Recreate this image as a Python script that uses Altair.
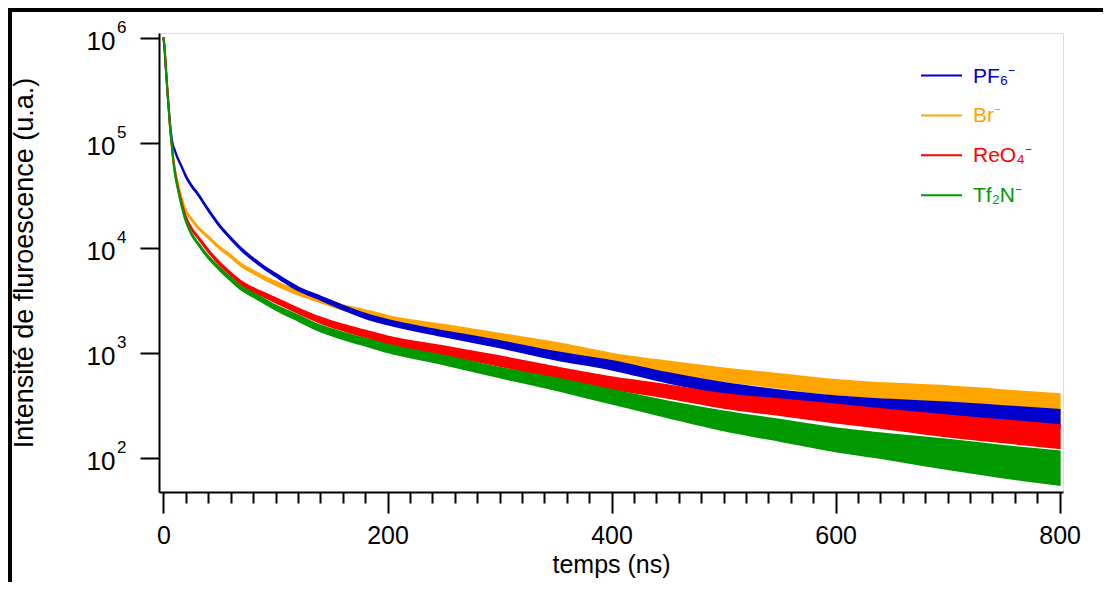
import altair as alt
import pandas as pd

FONT = "Liberation Sans, Arial, sans-serif"

# time axis (ns)
T_NS = [0, 1, 2, 3, 4, 5, 6, 7, 8, 10, 12, 15, 20, 25, 30, 40, 50, 60, 70, 80, 90,
        100, 120, 140, 160, 180, 200, 250, 300, 350, 400, 450, 500, 550, 600, 650,
        700, 750, 800]

# log10 of fluorescence intensity (centre of the noisy trace)
LOG_PF6 = [6.00, 5.88, 5.72, 5.56, 5.42, 5.30, 5.17, 5.07, 5.00, 4.93, 4.87, 4.80, 4.68,
           4.59, 4.52, 4.36, 4.21, 4.09, 3.98, 3.89, 3.81, 3.74, 3.61, 3.52, 3.43, 3.35,
           3.29, 3.18, 3.08, 2.97, 2.88, 2.76, 2.66, 2.58, 2.52, 2.48, 2.45, 2.41, 2.37]
LOG_BR = [6.00, 5.90, 5.74, 5.58, 5.42, 5.27, 5.13, 5.02, 4.92, 4.76, 4.65, 4.52, 4.35,
          4.27, 4.20, 4.10, 4.00, 3.92, 3.83, 3.77, 3.71, 3.66, 3.57, 3.50, 3.43, 3.38,
          3.32, 3.23, 3.14, 3.05, 2.94, 2.86, 2.79, 2.73, 2.67, 2.63, 2.60, 2.56, 2.52]
LOG_REO4 = [6.00, 5.90, 5.74, 5.58, 5.42, 5.27, 5.13, 5.02, 4.91, 4.74, 4.62, 4.48, 4.29,
            4.18, 4.11, 3.97, 3.85, 3.75, 3.66, 3.60, 3.55, 3.50, 3.40, 3.31, 3.24, 3.18,
            3.12, 3.02, 2.92, 2.81, 2.71, 2.63, 2.54, 2.48, 2.42, 2.36, 2.30, 2.25, 2.20]
LOG_TF2N = [6.00, 5.90, 5.74, 5.58, 5.42, 5.27, 5.13, 5.02, 4.91, 4.72, 4.60, 4.45, 4.25,
            4.13, 4.05, 3.91, 3.80, 3.70, 3.61, 3.55, 3.49, 3.43, 3.33, 3.23, 3.16, 3.10,
            3.04, 2.93, 2.81, 2.70, 2.58, 2.46, 2.35, 2.26, 2.17, 2.10, 2.03, 1.96, 1.90]

# half-width of the noise band (decades)
SPREAD_PF6 = [0.004] * 12 + [0.006, 0.006, 0.006, 0.007, 0.008, 0.008, 0.009, 0.010, 0.010,
              0.012, 0.015, 0.015, 0.018, 0.020, 0.020, 0.025, 0.030, 0.035, 0.040, 0.045,
              0.050, 0.060, 0.065, 0.070, 0.075, 0.080, 0.085]
SPREAD_BR = [0.004] * 12 + [0.006, 0.006, 0.007, 0.008, 0.009, 0.010, 0.011, 0.012, 0.013,
             0.015, 0.018, 0.020, 0.022, 0.025, 0.030, 0.035, 0.040, 0.045, 0.050, 0.055,
             0.060, 0.065, 0.070, 0.075, 0.080, 0.080, 0.085]
SPREAD_REO4 = [0.004] * 12 + [0.006, 0.007, 0.008, 0.010, 0.011, 0.012, 0.014, 0.016, 0.018,
               0.020, 0.022, 0.025, 0.028, 0.030, 0.035, 0.040, 0.045, 0.050, 0.055, 0.060,
               0.065, 0.075, 0.085, 0.090, 0.100, 0.105, 0.110]
SPREAD_TF2N = [0.004] * 12 + [0.006, 0.007, 0.008, 0.010, 0.012, 0.013, 0.015, 0.017, 0.019,
               0.020, 0.025, 0.028, 0.030, 0.032, 0.035, 0.040, 0.045, 0.055, 0.065, 0.075,
               0.090, 0.100, 0.110, 0.120, 0.140, 0.150, 0.160]

LEGEND_LABELS = ["PF₆⁻", "Br⁻", "ReO₄⁻", "Tf₂N⁻"]
COLORS = ["#0000CC", "#FFA500", "#FF0000", "#009900"]
LOGS = [LOG_PF6, LOG_BR, LOG_REO4, LOG_TF2N]
SPREADS = [SPREAD_PF6, SPREAD_BR, SPREAD_REO4, SPREAD_TF2N]

X_TICKS = list(range(0, 801, 20))
Y_TICKS = [100, 1000, 10000, 100000, 1000000]
Y_EXPONENTS = ["2", "3", "4", "5", "6"]

W, H = 904, 459

x_axis = alt.Axis(
    values=X_TICKS,
    labelExpr="datum.value % 200 === 0 ? datum.label : ''",
    tickSize={"condition": {"test": "datum.value % 200 === 0", "value": 21}, "value": 11},
    tickWidth=2, tickColor="black", domainColor="black", domainWidth=2,
    labelFont=FONT, labelFontSize=25, labelColor="black", labelPadding=10,
    labelOverlap=False, labelFlush=False,
    title="temps (ns)", titleFont=FONT, titleFontSize=25, titleFontWeight="normal",
    titleColor="black", titlePadding=4, grid=False,
)
y_axis = alt.Axis(
    values=Y_TICKS,
    labelExpr="'10'",
    tickSize=19, tickWidth=2, tickColor="black", domainColor="black", domainWidth=2,
    labelFont=FONT, labelFontSize=26, labelColor="black", labelPadding=25,
    labelOffset=4, labelOverlap=False, labelFlush=False,
    title="Intensité de fluroescence (u.a.)", titleFont=FONT, titleFontSize=27,
    titleFontWeight="normal", titleColor="black", titlePadding=48, grid=False,
)

x_scale = alt.Scale(domain=[-4, 803], nice=False, zero=False)
y_scale = alt.Scale(type="log", domain=[47, 1.11e6], nice=False)
x_enc = alt.X("t:Q", scale=x_scale, axis=x_axis)
y_enc = alt.Y("lo:Q", scale=y_scale, axis=y_axis)

layers = []
for idx in [1, 0, 2, 3]:  # draw order
    lg, sp = LOGS[idx], SPREADS[idx]
    df = pd.DataFrame({
        "t": T_NS,
        "lo": [10 ** (c - s) for c, s in zip(lg, sp)],
        "hi": [10 ** (c + s) for c, s in zip(lg, sp)],
    })
    layers.append(
        alt.Chart(df).mark_area(color=COLORS[idx], stroke=COLORS[idx], strokeWidth=2,
                                opacity=1, clip=True, interpolate="monotone")
        .encode(x=x_enc, y=y_enc, y2="hi:Q")
    )

# exponents of the y tick labels (10^n)
exp_df = pd.DataFrame({"lo": Y_TICKS, "e": Y_EXPONENTS})
layers.append(
    alt.Chart(exp_df)
    .mark_text(align="left", baseline="middle", font=FONT, fontSize=17, color="black",
               dy=-10)
    .encode(x=alt.value(-42), y=alt.Y("lo:Q", scale=y_scale, axis=y_axis), text="e:N")
)

# legend (drawn manually to colour each label)
for i, (lab, col) in enumerate(zip(LEGEND_LABELS, COLORS)):
    yy = 42.5 + 39.9 * i
    layers.append(
        alt.Chart(pd.DataFrame({"label": [lab]})).mark_rule(color=col, strokeWidth=2)
        .encode(x=alt.value(762), x2=alt.value(803), y=alt.value(yy))
    )
    layers.append(
        alt.Chart(pd.DataFrame({"label": [lab]}))
        .mark_text(align="left", baseline="middle", font=FONT, fontSize=21, color=col)
        .encode(x=alt.value(814), y=alt.value(yy + 1), text="label:N")
    )

# outer frame of the figure (top and left edges)
layers.append(
    alt.Chart(pd.DataFrame({"a": [0]})).mark_rule(color="black", strokeWidth=4)
    .encode(x=alt.value(-151), x2=alt.value(944), y=alt.value(-23))
)
layers.append(
    alt.Chart(pd.DataFrame({"a": [0]})).mark_rule(color="black", strokeWidth=4)
    .encode(x=alt.value(-149), y=alt.value(-25), y2=alt.value(549))
)

chart = (
    alt.layer(*layers)
    .properties(width=W, height=H,
                padding={"left": 151, "top": 25, "right": 40, "bottom": 90},
                autosize=alt.AutoSizeParams(type="none"))
    .configure_view(stroke="black", strokeWidth=2)
    .configure(background="white")
)

chart.save("out.html", embed_options={"renderer": "svg", "actions": False})
